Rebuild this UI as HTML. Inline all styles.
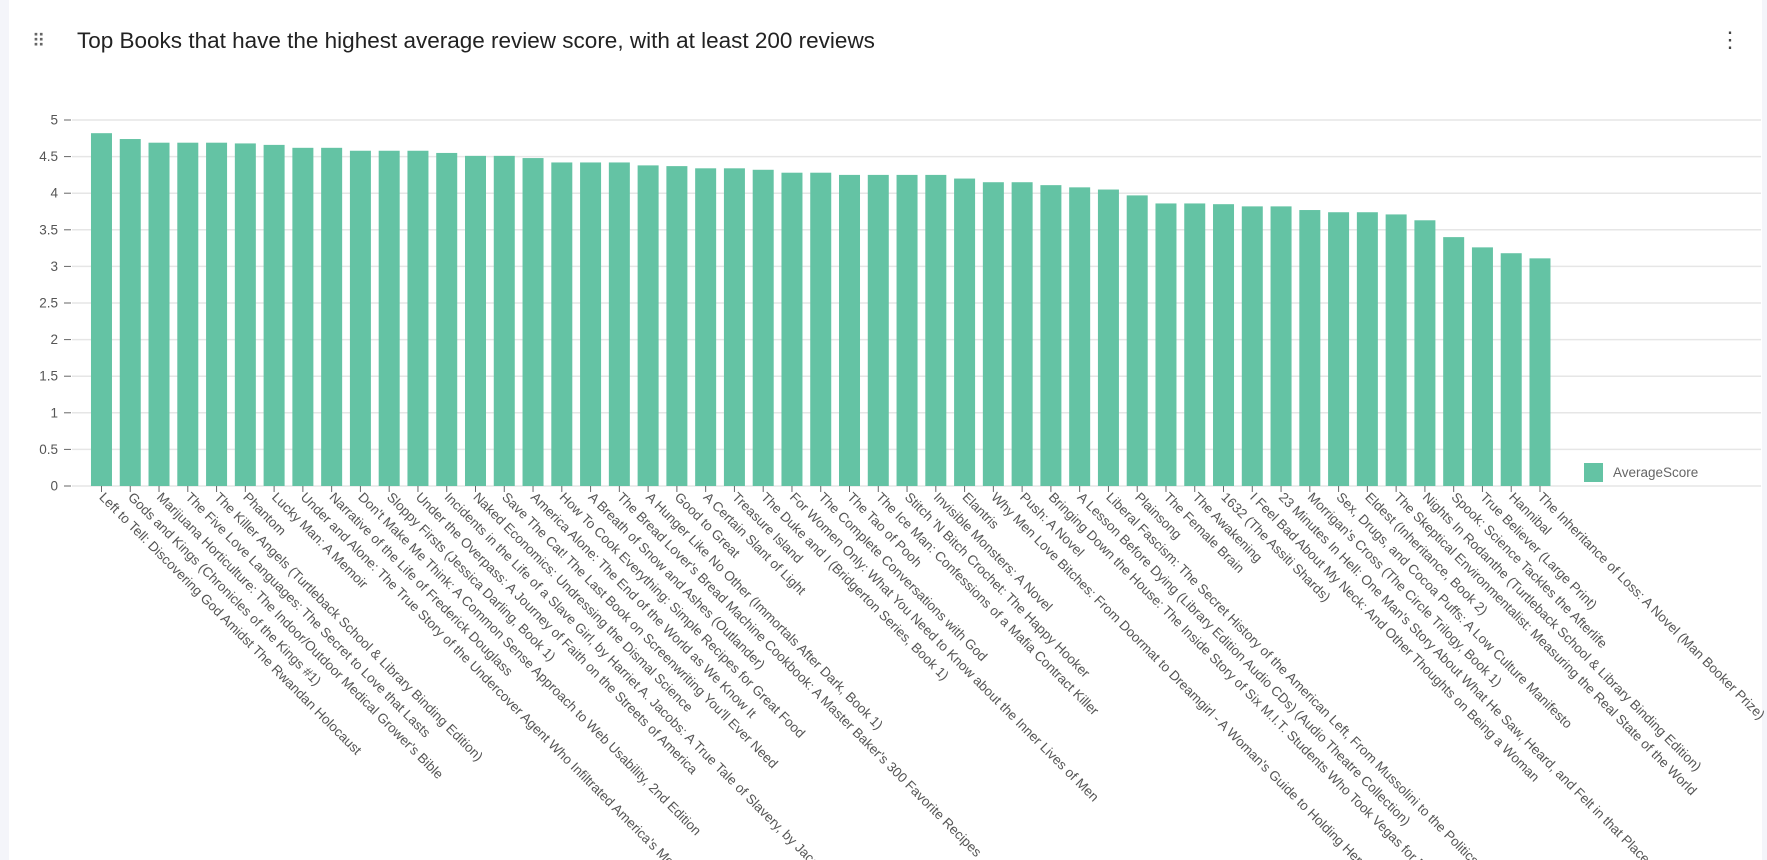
<!DOCTYPE html>
<html><head><meta charset="utf-8"><style>
body{margin:0;background:#f4f5fa;font-family:"Liberation Sans",sans-serif;width:1767px;height:860px;overflow:hidden}
#card{position:absolute;left:9px;top:0;width:1753px;height:860px;background:#fff;overflow:hidden}
#title{position:absolute;left:68px;top:28px;font-size:22.5px;color:#222}
#drag{position:absolute;left:23px;top:31px;font-size:18px;color:#666;letter-spacing:-1px}
#kebab{position:absolute;left:1710px;top:27px;font-size:22px;color:#444}
svg{position:absolute;left:0;top:0;overflow:hidden}
</style></head><body>
<div id="card">
<div id="drag">⠿</div>
<div id="title">Top Books that have the highest average review score, with at least 200 reviews</div>
<div id="kebab">⋮</div>
</div>
<svg id="chart" width="1767" height="860"></svg>
<script>
const categories=["Left to Tell: Discovering God Amidst The Rwandan Holocaust","Gods and Kings (Chronicles of the Kings #1)","Marijuana Horticulture: The Indoor/Outdoor Medical Grower's Bible","The Five Love Languages: The Secret to Love that Lasts","The Killer Angels (Turtleback School & Library Binding Edition)","Phantom","Lucky Man: A Memoir","Under and Alone: The True Story of the Undercover Agent Who Infiltrated America's Most Violent Gang","Narrative of the Life of Frederick Douglass","Don't Make Me Think: A Common Sense Approach to Web Usability, 2nd Edition","Sloppy Firsts (Jessica Darling, Book 1)","Under the Overpass: A Journey of Faith on the Streets of America","Incidents in the Life of a Slave Girl, by Harriet A. Jacobs: A True Tale of Slavery, by Jacobs","Naked Economics: Undressing the Dismal Science","Save The Cat! The Last Book on Screenwriting You'll Ever Need","America Alone: The End of the World as We Know It","How To Cook Everything: Simple Recipes for Great Food","A Breath of Snow and Ashes (Outlander)","The Bread Lover's Bread Machine Cookbook: A Master Baker's 300 Favorite Recipes","A Hunger Like No Other (Immortals After Dark, Book 1)","Good to Great","A Certain Slant of Light","Treasure Island","The Duke and I (Bridgerton Series, Book 1)","For Women Only: What You Need to Know about the Inner Lives of Men","The Complete Conversations with God","The Tao of Pooh","The Ice Man: Confessions of a Mafia Contract Killer","Stitch 'N Bitch Crochet: The Happy Hooker","Invisible Monsters: A Novel","Elantris","Why Men Love Bitches: From Doormat to Dreamgirl - A Woman's Guide to Holding Her Own","Push: A Novel","Bringing Down the House: The Inside Story of Six M.I.T. Students Who Took Vegas for Millions","A Lesson Before Dying (Library Edition Audio CDs) (Audio Theatre Collection)","Liberal Fascism: The Secret History of the American Left, From Mussolini to the Politics of Meaning","Plainsong","The Female Brain","The Awakening","1632 (The Assiti Shards)","I Feel Bad About My Neck: And Other Thoughts on Being a Woman","23 Minutes In Hell: One Man's Story About What He Saw, Heard, and Felt in that Place of Torment","Morrigan's Cross (The Circle Trilogy, Book 1)","Sex, Drugs, and Cocoa Puffs: A Low Culture Manifesto","Eldest (Inheritance, Book 2)","The Skeptical Environmentalist: Measuring the Real State of the World","Nights In Rodanthe (Turtleback School & Library Binding Edition)","Spook: Science Tackles the Afterlife","True Believer (Large Print)","Hannibal","The Inheritance of Loss: A Novel (Man Booker Prize)"];
const averageScore=[4.82,4.74,4.69,4.69,4.69,4.68,4.66,4.62,4.62,4.58,4.58,4.58,4.55,4.51,4.51,4.48,4.42,4.42,4.42,4.38,4.37,4.34,4.34,4.32,4.28,4.28,4.25,4.25,4.25,4.25,4.2,4.15,4.15,4.11,4.08,4.05,3.97,3.86,3.86,3.85,3.82,3.82,3.77,3.74,3.74,3.71,3.63,3.4,3.26,3.18,3.11];
const yTicks=[0,0.5,1,1.5,2,2.5,3,3.5,4,4.5,5];
const NS="http://www.w3.org/2000/svg";
const svg=document.getElementById('chart');
const y0=486,yTop=120,yMax=5,x0=87.1,step=28.77,barW=21;
const yScale=v=>y0-(v/yMax)*(y0-yTop);
const xCenter=i=>x0+step*(i+0.5);
function mk(t,a){const e=document.createElementNS(NS,t);for(const k in a)e.setAttribute(k,a[k]);svg.appendChild(e);return e;}
yTicks.forEach(t=>{
  const y=yScale(t);
  const g=mk('line',{x1:72,x2:1761,y1:y,y2:y,stroke:'#e6e6e6','stroke-width':1.5});
  
  
  const tk=mk('line',{x1:64,x2:71,y1:y,y2:y,stroke:'#666'});
  
  
  const tx=mk('text',{x:58,y:y+4.5,'text-anchor':'end','font-size':13.5,fill:'#555','font-family':'Liberation Sans, sans-serif'});
  tx.textContent=t;
  
  
});
averageScore.forEach((v,i)=>{
  const cx=xCenter(i);
  const r=mk('rect',{x:cx-barW/2,y:yScale(v),width:barW,height:y0-yScale(v),fill:'#64c3a4'});
  
  
  const tk=mk('line',{x1:cx,x2:cx,y1:y0,y2:y0+6,stroke:'#666'});
  
  
  const tx=mk('text',{x:0,y:0,transform:`translate(${cx-3},${y0+12}) rotate(45)`,'font-size':13.5,fill:'#555','font-family':'Liberation Sans, sans-serif'});
  tx.textContent=categories[i];
  
  
});
const lr=mk('rect',{x:1584,y:463,width:19,height:19,fill:'#64c3a4'});


const lt=mk('text',{x:1613,y:477,'font-size':13.5,fill:'#666','font-family':'Liberation Sans, sans-serif'});
lt.textContent='AverageScore';


</script>
</body></html>
